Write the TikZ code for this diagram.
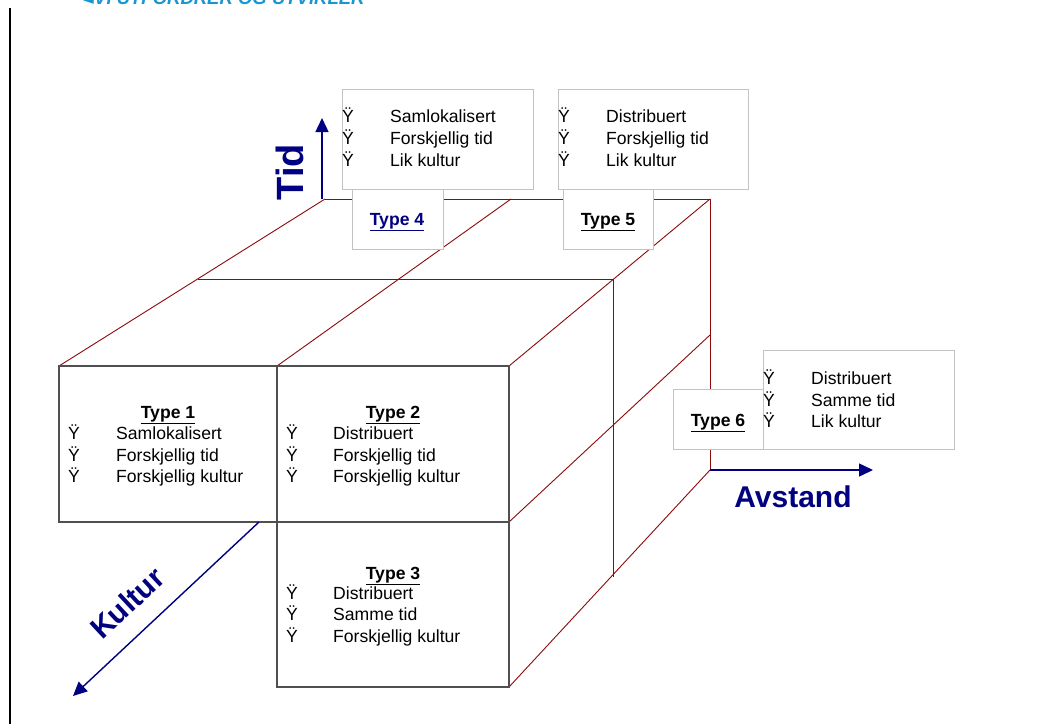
\documentclass[tikz,border=0pt]{standalone}
\usepackage{fontspec}
\setmainfont{Liberation Sans}
\newfontfamily\symfont{DejaVu Sans}
\usetikzlibrary{arrows.meta}
\definecolor{navy}{RGB}{0,0,128}
\definecolor{cubered}{RGB}{140,10,10}
\definecolor{faceline}{RGB}{80,80,80}
\definecolor{calloutline}{RGB}{195,195,195}
\definecolor{slogan}{RGB}{25,150,210}

% one bullet row: bullet x, text x, baseline y, text
\newcommand{\bulletrow}[4]{%
  \node[bodytext] at (#1,#3) {Ÿ};
  \node[bodytext] at (#2,#3) {#4};}

\begin{document}
\begin{tikzpicture}[x=1pt,y=-1pt,
  cubeedge/.style={draw=cubered, line width=0.9pt},
  facebox/.style={draw=faceline, line width=1.3pt, fill=white},
  callout/.style={draw=calloutline, line width=1pt, fill=white, inner sep=0pt},
  axisarrow/.style={draw=navy, line width=1.4pt, -{Triangle[length=14pt,width=13pt]}},
  axislabel/.style={text=navy, inner sep=0pt, font=\fontsize{30}{30}\selectfont\bfseries},
  bodytext/.style={font=\fontsize{17.6}{20}\selectfont, inner sep=0pt, anchor=base west},
  titletext/.style={font=\fontsize{17.6}{20}\selectfont\bfseries, inner sep=0pt, anchor=base}]
\useasboundingbox (0,0) rectangle (1039,724);
\clip (0,0) rectangle (1039,724);
\fill[white] (0,0) rectangle (1039,724);

% page rule and heading
\draw[black, line width=2pt] (10,8) -- (10,724);
\node[anchor=base west, inner sep=0pt, text=slogan,
      font=\fontsize{18.5}{18.5}\selectfont\bfseries\itshape] (slogan) at (94,4)
  {VI UTFORDRER OG UTVIKLER};
\node[anchor=base east, inner sep=0pt, text=slogan,
      font=\fontsize{14}{14}\selectfont\symfont] (sloganmark) at (slogan.base west) {◄};

% cube: corner points
\coordinate (f0) at (59,366);  \coordinate (f1) at (277,366); \coordinate (f2) at (509,366);
\coordinate (f2m) at (509,522); \coordinate (f2b) at (509,687);
\coordinate (m0) at (198,279); \coordinate (m1) at (397,279); \coordinate (m2) at (613,279);
\coordinate (m2b) at (613,577);
\coordinate (b0) at (325,199); \coordinate (b1) at (511,199); \coordinate (b2) at (710,199);
\coordinate (b2m) at (710,335); \coordinate (b2b) at (710,470);

% top and right faces
\draw[cubeedge] (f0) -- (b0);
\draw[cubeedge] (f1) -- (b1);
\draw[cubeedge] (f2) -- (b2);
\draw[cubeedge] (m0) -- (m2);
\draw[cubeedge] (b0) -- (b2);
\draw[cubeedge] (b2) -- (b2b);
\draw[cubeedge] (m2) -- (m2b);
\draw[cubeedge] (f2m) -- (b2m);
\draw[cubeedge] (f2b) -- (b2b);

% front faces
\draw[facebox] (59,366) rectangle (277,522);
\draw[facebox] (277,366) rectangle (509,522);
\draw[facebox] (277,522) rectangle (509,687);

% axes
\coordinate (tidstart) at (322,199);   \coordinate (tidend) at (322,118);
\coordinate (avstart) at (710,470);    \coordinate (avend) at (873,470);
\coordinate (kustart) at (259,522);    \coordinate (kuend) at (73,696);
\draw[axisarrow] (tidstart) -- (tidend);
\draw[axisarrow] (avstart) -- (avend);
\draw[axisarrow] (kustart) -- (kuend);
\node[axislabel, font=\fontsize{38}{38}\selectfont\bfseries, rotate=90] (tid) at (290,172) {Tid};
\node[axislabel] (avstand) at (793,497) {Avstand};
\node[axislabel, rotate=43] (kultur) at (127,603) {Kultur};

% Type 1
\node[titletext] (type1) at (168,418) {\underline{Type 1}};
\bulletrow{68}{116}{439}{Samlokalisert}
\bulletrow{68}{116}{461}{Forskjellig tid}
\bulletrow{68}{116}{482}{Forskjellig kultur}

% Type 2
\node[titletext] (type2) at (393,418) {\underline{Type 2}};
\bulletrow{286}{333}{439}{Distribuert}
\bulletrow{286}{333}{461}{Forskjellig tid}
\bulletrow{286}{333}{482}{Forskjellig kultur}

% Type 3
\node[titletext] (type3) at (393,579) {\underline{Type 3}};
\bulletrow{286}{333}{599}{Distribuert}
\bulletrow{286}{333}{620}{Samme tid}
\bulletrow{286}{333}{642}{Forskjellig kultur}

% Type 4 callout
\node[callout, anchor=north west, minimum width=191, minimum height=100] (t4box) at (342,89) {};
\node[callout, anchor=north west, minimum width=91, minimum height=60] (t4tag) at (352,189) {};
\node[titletext, text=navy] (type4) at (397,225) {\underline{Type 4}};
\bulletrow{342}{390}{122}{Samlokalisert}
\bulletrow{342}{390}{144}{Forskjellig tid}
\bulletrow{342}{390}{166}{Lik kultur}

% Type 5 callout
\node[callout, anchor=north west, minimum width=190, minimum height=100] (t5box) at (558,89) {};
\node[callout, anchor=north west, minimum width=90, minimum height=60] (t5tag) at (563,189) {};
\node[titletext] (type5) at (608,225) {\underline{Type 5}};
\bulletrow{558}{606}{122}{Distribuert}
\bulletrow{558}{606}{144}{Forskjellig tid}
\bulletrow{558}{606}{166}{Lik kultur}

% Type 6 callout
\node[callout, anchor=north west, minimum width=191, minimum height=99] (t6box) at (763,350) {};
\node[callout, anchor=north west, minimum width=90, minimum height=60] (t6tag) at (673,389) {};
\node[titletext] (type6) at (718,426) {\underline{Type 6}};
\bulletrow{763}{811}{384}{Distribuert}
\bulletrow{763}{811}{406}{Samme tid}
\bulletrow{763}{811}{427}{Lik kultur}
\end{tikzpicture}
\end{document}
